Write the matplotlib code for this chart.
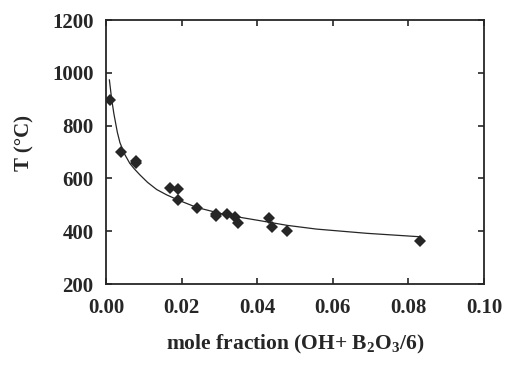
import matplotlib
matplotlib.use("Agg")
import matplotlib.pyplot as plt

# measured data points
x_data = [0.001, 0.004, 0.008, 0.008, 0.017, 0.019, 0.019, 0.024, 0.029, 0.029,
          0.032, 0.034, 0.035, 0.043, 0.044, 0.048, 0.083]
t_data = [897, 701, 665, 657, 562, 559, 517, 487, 467, 456,
          465, 455, 432, 450, 415, 400, 362]

# fitted curve
x_curve = [0.0009, 0.0015, 0.0021, 0.0030, 0.0037, 0.0050, 0.0063, 0.0075,
           0.0090, 0.0110, 0.0134, 0.0160, 0.0191, 0.024, 0.032, 0.0407,
           0.048, 0.0557, 0.069, 0.083]
t_curve = [973, 900, 844, 775, 735, 690, 657, 636,
           613, 585, 558, 538, 518, 490, 461, 440,
           422, 408, 392, 379]

x_ticks = [0.00, 0.02, 0.04, 0.06, 0.08, 0.10]
x_ticklabels = ["0.00", "0.02", "0.04", "0.06", "0.08", "0.10"]
y_ticks = [200, 400, 600, 800, 1000, 1200]

plt.rcParams['font.family'] = ['Liberation Serif', 'DejaVu Serif']
plt.rcParams['font.weight'] = 'bold'
plt.rcParams['mathtext.fontset'] = 'custom'
plt.rcParams['mathtext.rm'] = 'Liberation Serif:bold'
plt.rcParams['mathtext.bf'] = 'Liberation Serif:bold'
plt.rcParams['mathtext.it'] = 'Liberation Serif:bold'

fig = plt.figure(figsize=(5.18, 3.65), dpi=100)
ax = fig.add_axes([0.2046, 0.2219, 0.7298, 0.7233])

ink = '#262626'
ax.plot(x_curve, t_curve, color=ink, lw=0.9)
ax.plot(x_data, t_data, linestyle='none', marker='D', markersize=6,
        color=ink, markeredgewidth=0)

ax.set_xlim(0, 0.10)
ax.set_ylim(200, 1200)
ax.set_xticks(x_ticks)
ax.set_xticklabels(x_ticklabels)
ax.set_yticks(y_ticks)
ax.tick_params(direction='in', length=4, width=1.2, top=True, right=True,
               labelsize=15, colors=ink)
ax.tick_params(axis='x', pad=10)
ax.tick_params(axis='y', pad=9)
for lab in ax.get_xticklabels() + ax.get_yticklabels():
    lab.set_fontweight('bold')
for s in ax.spines.values():
    s.set_linewidth(1.3)
    s.set_color(ink)

ax.set_xlabel(r'mole fraction (OH+ B$_{\mathrm{2}}$O$_{\mathrm{3}}$/6)',
              fontsize=15.5, fontweight='bold', color=ink, labelpad=11)
ax.set_ylabel('T (°C)', fontsize=15, fontweight='bold', color=ink)
ax.yaxis.set_label_coords(-0.19, 0.535)

fig.savefig('out.png', dpi=100)
